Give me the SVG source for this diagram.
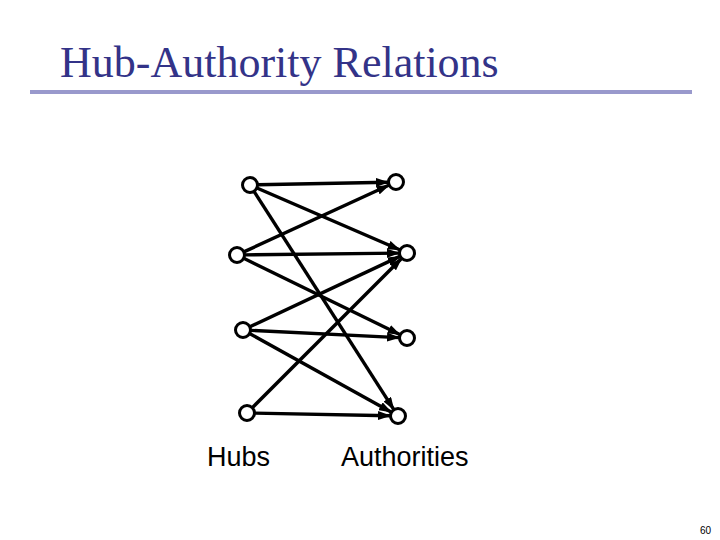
<svg xmlns="http://www.w3.org/2000/svg" width="720" height="540" viewBox="0 0 720 540">
<style>
.title{font-family:"Liberation Serif","Times New Roman",serif;font-size:44px;fill:#333388}
.lbl{font-family:"Liberation Sans",Arial,sans-serif;font-size:27px;fill:#000}
.pg{font-family:"Liberation Sans",Arial,sans-serif;font-size:10px;fill:#000}
.node{fill:#fff;stroke:#000;stroke-width:3}
.edge{stroke:#000;stroke-width:3.4;fill:none;marker-end:url(#ah)}
</style>
<defs>
<marker id="ah" markerUnits="userSpaceOnUse" markerWidth="13" markerHeight="9" refX="12" refY="4.5" orient="auto">
<path d="M0,0 L13,4.5 L0,9 z" fill="#000"/>
</marker>
</defs>
<rect width="720" height="540" fill="#fff"/>
<text class="title" x="60" y="77">Hub-Authority Relations</text>
<rect x="30" y="90" width="662" height="4" fill="#9999cc"/>
<g id="connectors">
<line class="edge" x1="257.5" y1="184.8" x2="388" y2="182.2"/>
<line class="edge" x1="256.9" y1="188" x2="399.7" y2="249.8"/>
<line class="edge" x1="254" y1="191.3" x2="393.7" y2="409.3"/>
<line class="edge" x1="243.8" y1="251.9" x2="388.7" y2="185.3"/>
<line class="edge" x1="244.5" y1="254.9" x2="399" y2="253.1"/>
<line class="edge" x1="243.7" y1="258.3" x2="399.8" y2="334.5"/>
<line class="edge" x1="249.8" y1="326.8" x2="399.8" y2="256.4"/>
<line class="edge" x1="250.5" y1="330.4" x2="399" y2="337.6"/>
<line class="edge" x1="249.6" y1="333.6" x2="391" y2="412.1"/>
<line class="edge" x1="252.3" y1="407.7" x2="401.3" y2="258.7"/>
<line class="edge" x1="254.5" y1="413.1" x2="390" y2="415.8"/>
</g>
<g id="hub1"><circle class="node" cx="250" cy="185" r="7.5"/></g>
<g id="hub2"><circle class="node" cx="237" cy="255" r="7.5"/></g>
<g id="hub3"><circle class="node" cx="243" cy="330" r="7.5"/></g>
<g id="hub4"><circle class="node" cx="247" cy="413" r="7.5"/></g>
<g id="auth1"><circle class="node" cx="396" cy="182" r="7.5"/></g>
<g id="auth2"><circle class="node" cx="407" cy="253" r="7.5"/></g>
<g id="auth3"><circle class="node" cx="407" cy="338" r="7.5"/></g>
<g id="auth4"><circle class="node" cx="398" cy="416" r="7.5"/></g>
<text class="lbl" x="207" y="466">Hubs</text>
<text class="lbl" x="341" y="466">Authorities</text>
<text class="pg" x="700" y="534">60</text>
</svg>
